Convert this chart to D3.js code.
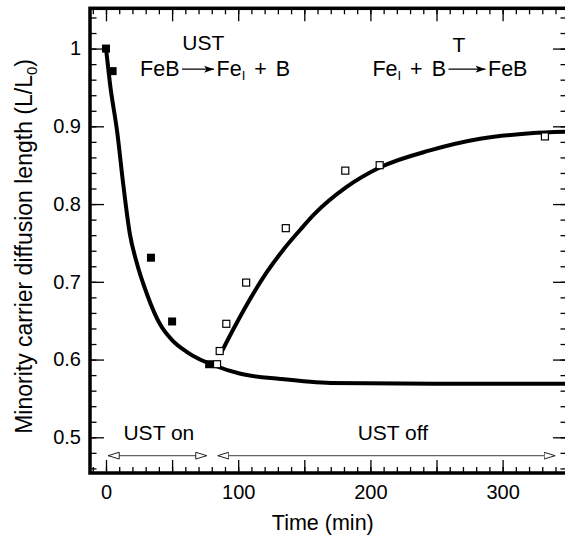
<!DOCTYPE html>
<html lang="en">
<head>
<meta charset="UTF-8">
<title>Minority carrier diffusion length vs time</title>
<style>
  body { margin: 0; background: #fff; }
  text { font-family: "Liberation Sans", Arial, Helvetica, sans-serif; fill: #000; }
</style>
</head>
<body>
<svg width="565" height="536"></svg>
<script src="https://d3js.org/d3.v7.min.js"></script>
<script>
// measured points: filled = during UST, open = after UST switched off
var ustOnTime   = [0, 5, 34, 50, 78];
var ustOnValue  = [1.0, 0.971, 0.731, 0.649, 0.594];
var ustOffTime  = [84, 86, 91, 106, 136, 181, 207, 332];
var ustOffValue = [0.594, 0.611, 0.646, 0.699, 0.769, 0.843, 0.850, 0.887];

// fitted curves
var decayTime    = [0, 3, 8.6, 13, 18, 23, 31, 41, 50, 61, 70, 81, 101, 132, 170, 250, 349];
var decayValue   = [1.0, 0.955, 0.891, 0.826, 0.762, 0.726, 0.684, 0.645, 0.625, 0.610, 0.601, 0.593, 0.582, 0.575, 0.570, 0.569, 0.569];
var recoverTime  = [87.5, 96, 121.5, 134, 147, 157, 182, 207, 245, 283, 321, 349];
var recoverValue = [0.61, 0.638, 0.712, 0.741, 0.767, 0.786, 0.822, 0.847, 0.869, 0.884, 0.891, 0.893];

// axis ticks
var xTickLabels = [0, 100, 200, 300];
var yTickLabels = [0.5, 0.6, 0.7, 0.8, 0.9, 1];

// phase arrows along the bottom
var phaseNames = ["UST on", "UST off"];
var phaseStart = [1.7, 84.6];
var phaseEnd   = [76.2, 339.7];

var svg = d3.select("svg");
// note: "top" is taken by window.top, so use other names
var mLeft = 90, mRight = 567, mTop = 8.3, mBottom = 473;

var x = d3.scaleLinear().domain([-12.1, 348.7]).range([mLeft, mRight]);
var y = d3.scaleLinear().domain([0.4541, 1.0518]).range([mBottom, mTop]);

var defs = svg.append("defs");

// open triangle head for the phase arrows
defs.append("marker")
  .attr("id", "openHead")
  .attr("viewBox", "0 0 12 8")
  .attr("refX", 11.5).attr("refY", 4)
  .attr("markerWidth", 12).attr("markerHeight", 8)
  .attr("markerUnits", "userSpaceOnUse")
  .attr("orient", "auto-start-reverse")
  .append("path")
  .attr("d", "M0.5,0.6 L11.5,4 L0.5,7.4 Z")
  .attr("fill", "#fff")
  .attr("stroke", "#222")
  .attr("stroke-width", 1);

// filled notched head for the reaction arrows
defs.append("marker")
  .attr("id", "fillHead")
  .attr("viewBox", "0 0 10 8")
  .attr("refX", 10).attr("refY", 4)
  .attr("markerWidth", 10).attr("markerHeight", 8)
  .attr("markerUnits", "userSpaceOnUse")
  .attr("orient", "auto")
  .append("path")
  .attr("d", "M0,0.5 L10,4 L0,7.5 L2.5,4 Z")
  .attr("fill", "#000");

// ---- axes: ticks point inward on all four sides
function styleAxis(g) {
  g.select(".domain").remove();
  g.selectAll("line").attr("stroke", "#000").attr("stroke-width", 1.3);
  g.attr("font-family", null).attr("font-size", 20);
}

var xMinor = d3.range(-10, 341, 10);
var xMajor = d3.range(0, 341, 50);
var yMinor = d3.range(23, 53).map(d => d / 50);
var yMajor = yTickLabels;

svg.append("g").attr("transform", `translate(0,${mBottom})`)
  .call(d3.axisBottom(x).tickValues(xMinor).tickSize(-6).tickFormat(""))
  .call(styleAxis);
svg.append("g").attr("transform", `translate(0,${mBottom})`)
  .call(d3.axisBottom(x).tickValues(xMajor).tickSize(-13).tickPadding(12)
    .tickFormat(d => xTickLabels.includes(d) ? d : ""))
  .call(styleAxis);

svg.append("g").attr("transform", `translate(0,${mTop})`)
  .call(d3.axisTop(x).tickValues(xMinor).tickSize(-6).tickFormat(""))
  .call(styleAxis);
svg.append("g").attr("transform", `translate(0,${mTop})`)
  .call(d3.axisTop(x).tickValues(xMajor).tickSize(-13).tickFormat(""))
  .call(styleAxis);

svg.append("g").attr("transform", `translate(${mLeft},0)`)
  .call(d3.axisLeft(y).tickValues(yMinor).tickSize(-6.5).tickFormat(""))
  .call(styleAxis);
svg.append("g").attr("transform", `translate(${mLeft},0)`)
  .call(d3.axisLeft(y).tickValues(yMajor).tickSize(-14).tickPadding(9).tickFormat(d3.format("")))
  .call(styleAxis);

svg.append("g").attr("transform", `translate(${mRight},0)`)
  .call(d3.axisRight(y).tickValues(yMinor).tickSize(-6.5).tickFormat(""))
  .call(styleAxis);
svg.append("g").attr("transform", `translate(${mRight},0)`)
  .call(d3.axisRight(y).tickValues(yMajor).tickSize(-14).tickFormat(""))
  .call(styleAxis);

// frame
svg.append("rect")
  .attr("x", mLeft).attr("y", mTop)
  .attr("width", mRight - mLeft).attr("height", mBottom - mTop)
  .attr("fill", "none")
  .attr("stroke", "#000")
  .attr("stroke-width", 3.5);

// ---- curves
var line = d3.line()
  .x(d => x(d[0]))
  .y(d => y(d[1]))
  .curve(d3.curveMonotoneX);

svg.append("path")
  .datum(d3.zip(decayTime, decayValue))
  .attr("d", line)
  .attr("fill", "none")
  .attr("stroke", "#000")
  .attr("stroke-width", 4);

svg.append("path")
  .datum(d3.zip(recoverTime, recoverValue))
  .attr("d", line)
  .attr("fill", "none")
  .attr("stroke", "#000")
  .attr("stroke-width", 4);

// ---- squares
var sq = 8;
svg.append("g").selectAll("rect")
  .data(d3.zip(ustOnTime, ustOnValue))
  .enter().append("rect")
  .attr("x", d => x(d[0]) - sq / 2)
  .attr("y", d => y(d[1]) - sq / 2)
  .attr("width", sq).attr("height", sq)
  .attr("fill", "#000");

svg.append("g").selectAll("rect")
  .data(d3.zip(ustOffTime, ustOffValue))
  .enter().append("rect")
  .attr("x", d => x(d[0]) - sq / 2 + 0.5)
  .attr("y", d => y(d[1]) - sq / 2 + 0.5)
  .attr("width", sq - 1).attr("height", sq - 1)
  .attr("fill", "#fff")
  .attr("stroke", "#000")
  .attr("stroke-width", 1.2);

// ---- phase arrows and labels
var arrowY = y(0.4764);
svg.append("g").selectAll("line")
  .data(d3.zip(phaseStart, phaseEnd))
  .enter().append("line")
  .attr("x1", d => x(d[0]))
  .attr("x2", d => x(d[1]))
  .attr("y1", arrowY).attr("y2", arrowY)
  .attr("stroke", "#666")
  .attr("stroke-width", 1.3)
  .attr("marker-start", "url(#openHead)")
  .attr("marker-end", "url(#openHead)");

var phaseLabelX = [40, 217];
svg.append("g").selectAll("text")
  .data(phaseNames)
  .enter().append("text")
  .attr("x", (d, i) => x(phaseLabelX[i]))
  .attr("y", y(0.4965))
  .attr("text-anchor", "middle")
  .attr("font-size", 21)
  .text(d => d);

// ---- reaction annotations
svg.append("text")
  .attr("x", x(73.6)).attr("y", y(0.998))
  .attr("text-anchor", "middle").attr("font-size", 21)
  .text("UST");
svg.append("text")
  .attr("x", x(267)).attr("y", y(0.996))
  .attr("text-anchor", "middle").attr("font-size", 21)
  .text("T");

// parts: {t: text, sub: subscript?, dx: extra gap before}
function addParts(x0, yb, parts) {
  var t = svg.append("text").attr("x", x0).attr("y", yb).attr("font-size", 21.5);
  var shift = 0;
  parts.forEach(function(p) {
    var s = p.sub ? 3.8 : 0;
    t.append("tspan")
      .attr("dy", s - shift)
      .attr("dx", p.dx || 0)
      .attr("font-size", p.sub ? 13 : 21.5)
      .text(p.t);
    shift = s;
  });
  return t.node().getBBox().x + t.node().getBBox().width;
}

function formula(x0, yb, lhs, rhs, arrowLen) {
  var end = addParts(x0, yb, lhs);
  var a0 = end + 2.5, a1 = a0 + arrowLen;
  svg.append("line")
    .attr("x1", a0).attr("x2", a1)
    .attr("y1", yb - 6.6).attr("y2", yb - 6.6)
    .attr("stroke", "#000").attr("stroke-width", 1.2)
    .attr("marker-end", "url(#fillHead)");
  addParts(a1 + 2.5, yb, rhs);
}

var feI = [{t: "Fe"}, {t: "I", sub: true}, {t: "+", dx: 9}, {t: "B", dx: 9}];
var feB = [{t: "FeB"}];
formula(x(25.8), y(0.965), feB, feI, 32);
formula(x(201.5), y(0.965), feI, feB, 37);

// ---- axis titles
svg.append("text")
  .attr("x", x(164)).attr("y", 530)
  .attr("text-anchor", "middle").attr("font-size", 21.5)
  .text("Time (min)");

var yl = svg.append("text")
  .attr("transform", `translate(32,${(y(1.0) + y(0.5)) / 2 + 3.5}) rotate(-90)`)
  .attr("text-anchor", "middle").attr("font-size", 23);
yl.append("tspan").text("Minority carrier diffusion length (L/L");
yl.append("tspan").attr("dy", 4.5).attr("font-size", 15).text("0");
yl.append("tspan").attr("dy", -4.5).text(")");
</script>
</body>
</html>
